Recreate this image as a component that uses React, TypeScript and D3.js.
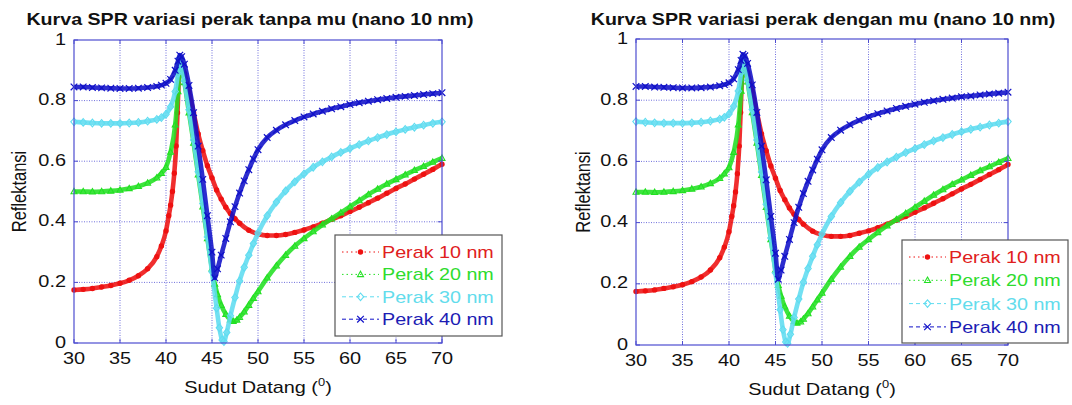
import { useEffect, useRef } from 'react';
import * as d3 from 'd3';

// angle (deg) / reflectance pairs
const perak10: [number, number][] = [
  [30, 0.175], [31, 0.177], [32, 0.18], [33, 0.185], [34, 0.19], [35, 0.197], [36, 0.207], [37, 0.222],
  [38, 0.245], [39, 0.285], [39.5, 0.32], [40, 0.37], [40.3, 0.42], [40.5, 0.455], [40.7, 0.5], [40.9, 0.56],
  [41.1, 0.65], [41.25, 0.76], [41.4, 0.88], [41.5, 0.93], [41.7, 0.92], [42, 0.89], [42.5, 0.83], [43, 0.76],
  [43.5, 0.69], [44, 0.635], [44.5, 0.585], [45, 0.545], [45.5, 0.505], [46, 0.475], [46.5, 0.448], [47, 0.427],
  [47.5, 0.41], [48, 0.395], [49, 0.372], [50, 0.36], [51, 0.355], [52, 0.355], [53, 0.358], [54, 0.365],
  [55, 0.373], [56, 0.383], [57, 0.395], [58, 0.408], [59, 0.42], [60, 0.434], [61, 0.448], [62, 0.463],
  [63, 0.478], [64, 0.494], [65, 0.51], [66, 0.525], [67, 0.541], [68, 0.557], [69, 0.573], [70, 0.59],
];
const perak20: [number, number][] = [
  [30, 0.5], [31, 0.5], [32, 0.499], [33, 0.5], [34, 0.502], [35, 0.505], [36, 0.51], [37, 0.517],
  [38, 0.528], [39, 0.545], [39.5, 0.56], [40, 0.58], [40.5, 0.63], [41, 0.72], [41.3, 0.83], [41.5, 0.93],
  [41.7, 0.91], [42, 0.86], [42.5, 0.76], [43, 0.66], [43.5, 0.555], [44, 0.45], [44.5, 0.345], [45, 0.245],
  [45.3, 0.195], [45.6, 0.16], [46, 0.125], [46.5, 0.095], [47, 0.077], [47.3, 0.072], [47.7, 0.076], [48, 0.085],
  [48.5, 0.103], [49, 0.125], [49.5, 0.148], [50, 0.17], [51, 0.215], [52, 0.255], [53, 0.29], [54, 0.32],
  [55, 0.345], [56, 0.368], [57, 0.39], [58, 0.41], [59, 0.43], [60, 0.45], [61, 0.47], [62, 0.49],
  [63, 0.508], [64, 0.525], [65, 0.54], [66, 0.555], [67, 0.57], [68, 0.583], [69, 0.597], [70, 0.61],
];
const perak30: [number, number][] = [
  [30, 0.73], [31, 0.728], [32, 0.726], [33, 0.725], [34, 0.725], [35, 0.725], [36, 0.726], [37, 0.728],
  [38, 0.732], [39, 0.738], [39.5, 0.744], [40, 0.755], [40.5, 0.78], [41, 0.83], [41.3, 0.89], [41.5, 0.94],
  [41.7, 0.92], [42, 0.865], [42.5, 0.77], [43, 0.67], [43.5, 0.565], [44, 0.46], [44.5, 0.35], [45, 0.235],
  [45.5, 0.115], [45.8, 0.05], [46.1, 0.01], [46.3, 0.005], [46.6, 0.035], [47, 0.09], [47.5, 0.15], [48, 0.205],
  [48.5, 0.25], [49, 0.29], [49.5, 0.328], [50, 0.363], [51, 0.42], [52, 0.465], [53, 0.502], [54, 0.532],
  [55, 0.558], [56, 0.58], [57, 0.598], [58, 0.614], [59, 0.629], [60, 0.642], [61, 0.655], [62, 0.667],
  [63, 0.678], [64, 0.688], [65, 0.697], [66, 0.705], [67, 0.712], [68, 0.719], [69, 0.725], [70, 0.73],
];
const perak40: [number, number][] = [
  [30, 0.845], [31, 0.845], [32, 0.843], [33, 0.842], [34, 0.841], [35, 0.84], [36, 0.84], [37, 0.841],
  [38, 0.843], [39, 0.847], [39.5, 0.851], [40, 0.857], [40.5, 0.87], [41, 0.9], [41.3, 0.93], [41.5, 0.95],
  [41.7, 0.945], [42, 0.92], [42.5, 0.85], [43, 0.76], [43.5, 0.65], [44, 0.54], [44.5, 0.42], [45, 0.3],
  [45.3, 0.215], [45.6, 0.245], [46, 0.29], [46.5, 0.345], [47, 0.4], [47.5, 0.45], [48, 0.495], [48.5, 0.535],
  [49, 0.572], [49.5, 0.607], [50, 0.638], [51, 0.678], [52, 0.702], [53, 0.72], [54, 0.734], [55, 0.746],
  [56, 0.756], [57, 0.765], [58, 0.773], [59, 0.78], [60, 0.787], [61, 0.793], [62, 0.798], [63, 0.803],
  [64, 0.807], [65, 0.811], [66, 0.814], [67, 0.817], [68, 0.82], [69, 0.823], [70, 0.826],
];

const seriesLabels = ['Perak 10 nm', 'Perak 20 nm', 'Perak 30 nm', 'Perak 40 nm'];
const xTicks = [30, 35, 40, 45, 50, 55, 60, 65, 70];
const yTicks = [0, 0.2, 0.4, 0.6, 0.8, 1];
const titles = [
  'Kurva SPR variasi perak tanpa mu (nano 10 nm)',
  'Kurva SPR variasi perak dengan mu (nano 10 nm)',
];

const seriesData = [perak10, perak20, perak30, perak40];
const seriesStyle = [
  { color: '#ee1111', text: '#e02020', marker: 'dot', dash: '1.5,3' },
  { color: '#22e022', text: '#2edc2e', marker: 'tri', dash: '1.5,3' },
  { color: '#5fdcf0', text: '#62dcec', marker: 'dia', dash: '4,3' },
  { color: '#1010c8', text: '#1c1cb4', marker: 'x', dash: '4,3' },
];

const panels = [
  { left: 74, right: 442, top: 40, bottom: 343, titleX: 250, ylabX: 20, legend: { x: 335, y: 235, w: 167, h: 101, step: 22.4 } },
  { left: 636, right: 1008, top: 39, bottom: 345, titleX: 823, ylabX: 584, legend: { x: 902, y: 240, w: 166, h: 103, step: 23.3 } },
];

const FONT = '"Liberation Sans", Arial, Helvetica, sans-serif';

const App = () => {
  const svgRef = useRef<SVGSVGElement>(null);

  useEffect(() => {
    const svg = d3.select(svgRef.current);
    svg.selectAll('*').remove();

    // the picture's text is stretched sideways a little
    const stretchText = (g: any, x: number, y: number, str: string, opts: any = {}) =>
      g.append('text')
        .attr('transform', `translate(${x},${y}) scale(${opts.sx || 1.17},1)`)
        .attr('text-anchor', opts.anchor || 'start')
        .attr('font-family', FONT)
        .attr('font-size', opts.size || 17)
        .attr('font-weight', opts.weight || 'normal')
        .attr('fill', opts.fill || '#111')
        .text(str);

    const drawMarker = (g: any, kind: string, x: number, y: number, color: string) => {
      if (kind === 'dot') {
        g.append('circle').attr('cx', x).attr('cy', y).attr('r', 2.7).attr('fill', color);
      } else if (kind === 'tri') {
        g.append('path').attr('d', `M${x},${y - 3.2}L${x + 3},${y + 2.2}L${x - 3},${y + 2.2}Z`)
          .attr('fill', 'none').attr('stroke', color).attr('stroke-width', 1.1);
      } else if (kind === 'dia') {
        g.append('path').attr('d', `M${x},${y - 3.8}L${x + 3.2},${y}L${x},${y + 3.8}L${x - 3.2},${y}Z`)
          .attr('fill', 'none').attr('stroke', color).attr('stroke-width', 1.1);
      } else {
        g.append('path').attr('d', `M${x - 3.3},${y - 3.3}L${x + 3.3},${y + 3.3}M${x - 3.3},${y + 3.3}L${x + 3.3},${y - 3.3}`)
          .attr('stroke', color).attr('stroke-width', 1.2);
      }
    };

    panels.forEach((p, pi) => {
      const g = svg.append('g');
      const x = d3.scaleLinear().domain([30, 70]).range([p.left, p.right]);
      const y = d3.scaleLinear().domain([0, 1]).range([p.bottom, p.top]);

      g.append('rect').attr('x', p.left).attr('y', p.top)
        .attr('width', p.right - p.left).attr('height', p.bottom - p.top).attr('fill', 'white');

      // dotted grid
      g.append('g').selectAll('line').data(xTicks.slice(1, -1)).enter().append('line')
        .attr('x1', d => x(d)).attr('x2', d => x(d)).attr('y1', p.top).attr('y2', p.bottom)
        .attr('stroke', '#6f6fdc').attr('stroke-width', 1).attr('stroke-dasharray', '1,1.5');
      g.append('g').selectAll('line').data(yTicks.slice(1, -1)).enter().append('line')
        .attr('y1', d => y(d)).attr('y2', d => y(d)).attr('x1', p.left).attr('x2', p.right)
        .attr('stroke', '#6f6fdc').attr('stroke-width', 1).attr('stroke-dasharray', '1,1.5');

      // series: dense markers in the picture read as a thick band
      const line = d3.line<[number, number]>().x(d => x(d[0])).y(d => y(d[1])).curve(d3.curveMonotoneX);
      seriesData.forEach((data, si) => {
        const st = seriesStyle[si];
        g.append('path').attr('d', line(data)).attr('fill', 'none')
          .attr('stroke', st.color).attr('stroke-width', 4.6).attr('stroke-linejoin', 'round')
          .attr('stroke-opacity', 0.88);
        const mg = g.append('g');
        data.forEach(d => drawMarker(mg, st.marker, x(d[0]), y(d[1]), st.color));
      });

      // box and inward ticks
      g.append('rect').attr('x', p.left).attr('y', p.top)
        .attr('width', p.right - p.left).attr('height', p.bottom - p.top)
        .attr('fill', 'none').attr('stroke', '#4d4dd0').attr('stroke-width', 1.2);
      xTicks.forEach(t => {
        g.append('line').attr('x1', x(t)).attr('x2', x(t)).attr('y1', p.bottom).attr('y2', p.bottom - 4)
          .attr('stroke', '#4d4dd0');
        g.append('line').attr('x1', x(t)).attr('x2', x(t)).attr('y1', p.top).attr('y2', p.top + 4)
          .attr('stroke', '#4d4dd0');
        stretchText(g, x(t), p.bottom + 21, String(t), { anchor: 'middle' });
      });
      yTicks.forEach(t => {
        g.append('line').attr('x1', p.left).attr('x2', p.left + 4).attr('y1', y(t)).attr('y2', y(t))
          .attr('stroke', '#4d4dd0');
        g.append('line').attr('x1', p.right).attr('x2', p.right - 4).attr('y1', y(t)).attr('y2', y(t))
          .attr('stroke', '#4d4dd0');
        stretchText(g, p.left - 8, y(t) + 4.5, d3.format('~g')(t), { anchor: 'end' });
      });

      // titles / axis labels
      stretchText(g, p.titleX, 25, titles[pi], { anchor: 'middle', weight: 'bold', size: 16.5, sx: 1.19 });
      const xl = g.append('text')
        .attr('transform', `translate(${(p.left + p.right) / 2},${p.bottom + 50}) scale(1.17,1)`)
        .attr('text-anchor', 'middle').attr('font-family', FONT).attr('font-size', 17).attr('fill', '#111');
      xl.append('tspan').text('Sudut Datang (');
      xl.append('tspan').attr('font-size', 11).attr('dy', -7).text('0');
      xl.append('tspan').attr('dy', 7).text(')');
      g.append('text')
        .attr('transform', `translate(${p.ylabX + 6},${(p.top + p.bottom) / 2}) rotate(-90) scale(1,1.17)`)
        .attr('text-anchor', 'middle').attr('font-family', FONT).attr('font-size', 16.5).attr('fill', '#111')
        .text('Reflektansi');

      // legend
      const L = p.legend;
      const lg = g.append('g');
      lg.append('rect').attr('x', L.x).attr('y', L.y).attr('width', L.w).attr('height', L.h)
        .attr('fill', 'white').attr('stroke', '#555').attr('stroke-width', 1.2);
      seriesLabels.forEach((lab, si) => {
        const st = seriesStyle[si];
        const ry = L.y + 17 + si * L.step;
        lg.append('line').attr('x1', L.x + 7).attr('x2', L.x + 44).attr('y1', ry).attr('y2', ry)
          .attr('stroke', st.color).attr('stroke-width', 1).attr('stroke-dasharray', st.dash);
        drawMarker(lg, st.marker, L.x + 25.5, ry, st.color);
        stretchText(lg, L.x + 47, ry + 6, lab, { size: 17, sx: 1.16, fill: st.text });
      });
    });
  }, []);

  return (
    <svg ref={svgRef} width={1072} height={405}
      style={{ position: 'absolute', left: 0, top: 0, display: 'block', background: 'white' }} />
  );
};

export default App;
